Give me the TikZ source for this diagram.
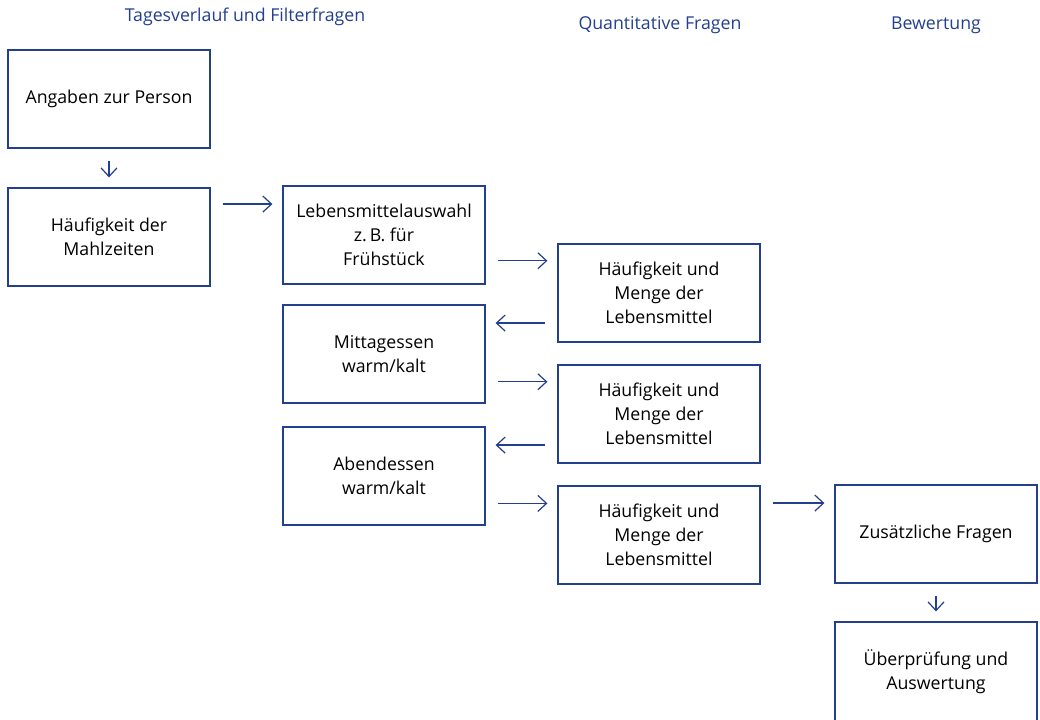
\documentclass[tikz,border=0pt]{standalone}
\usepackage{fontspec}
\setmainfont{Open Sans}
\usetikzlibrary{arrows.meta}
\definecolor{flowblue}{RGB}{35,64,142}

\tikzset{every picture/.style={line width=0.75pt}}
\tikzset{
  stepbox/.style={draw=flowblue, line width=0.9pt, minimum width=151.5pt, minimum height=73.5pt,
    align=center, font=\fontsize{13.3}{18}\selectfont, inner sep=2pt},
  coltitle/.style={text=flowblue, font=\fontsize{13.3}{16}\selectfont},
  flow/.style={draw=flowblue, line width=0.9pt, -{Straight Barb[length=6.5pt,width=12pt]},
    shorten <=9pt, shorten >=7.5pt}
}

\begin{document}
\begin{tikzpicture}[x=0.75pt,y=0.75pt,yscale=-1,xscale=1]
\useasboundingbox (0,0) rectangle (1040,719);

% Column titles
\node[coltitle] (tTag) at (245,17) {Tagesverlauf und Filterfragen};
\node[coltitle] (tQuant) at (660,25) {Quantitative Fragen};
\node[coltitle] (tBew) at (936,25) {Bewertung};

% Text Node
\node[stepbox] (person) at (109,99) {Angaben zur Person};
% Text Node
\node[stepbox] (mahl) at (109,237) {Häufigkeit der\\Mahlzeiten};
% Text Node
\node[stepbox] (fruehst) at (384,235) {Lebensmittelauswahl\\z.\,B. für\\Frühstück};
% Text Node
\node[stepbox] (mengeA) at (659,293) {Häufigkeit und\\Menge der\\Lebensmittel};
% Text Node
\node[stepbox] (mittag) at (384,354) {Mittagessen\\warm/kalt};
% Text Node
\node[stepbox] (mengeB) at (659,414) {Häufigkeit und\\Menge der\\Lebensmittel};
% Text Node
\node[stepbox] (abend) at (384,476) {Abendessen\\warm/kalt};
% Text Node
\node[stepbox] (mengeC) at (659,535) {Häufigkeit und\\Menge der\\Lebensmittel};
% Text Node
\node[stepbox] (zusatz) at (936,534) {Zusätzliche Fragen};
% Text Node
\node[stepbox, minimum height=75pt] (pruef) at (936,672) {Überprüfung und\\Auswertung};

% arrow heights, just under the top of the target box
\coordinate (aFrueh) at ([yshift=14pt]fruehst.north west);
\coordinate (aMengeA) at ([yshift=13pt]mengeA.north west);
\coordinate (aMittag) at ([yshift=14pt]mittag.north east);
\coordinate (aMengeB) at ([yshift=13pt]mengeB.north west);
\coordinate (aAbend) at ([yshift=14pt]abend.north east);
\coordinate (aMengeC) at ([yshift=13.5pt]mengeC.north west);
\coordinate (aZusatz) at ([yshift=14pt]zusatz.north west);

%Straight Lines
\draw[flow] (person) -- (mahl);
\draw[flow] (mahl.east |- aFrueh) -- (aFrueh);
\draw[flow] (fruehst.east |- aMengeA) -- (aMengeA);
\draw[flow] (mengeA.west |- aMittag) -- (aMittag);
\draw[flow] (mittag.east |- aMengeB) -- (aMengeB);
\draw[flow] (mengeB.west |- aAbend) -- (aAbend);
\draw[flow] (abend.east |- aMengeC) -- (aMengeC);
\draw[flow] (mengeC.east |- aZusatz) -- (aZusatz);
\draw[flow] (zusatz) -- (pruef);

\end{tikzpicture}
\end{document}
